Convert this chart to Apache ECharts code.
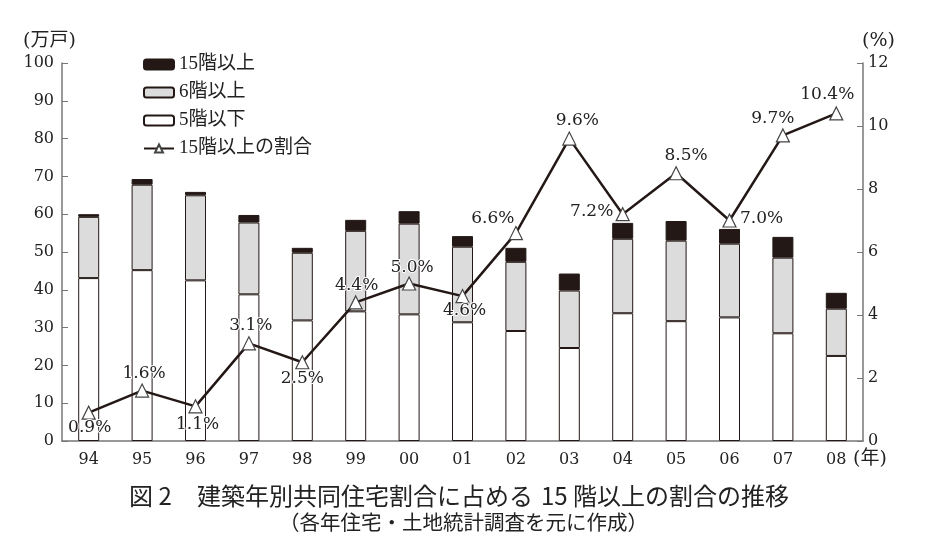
<!DOCTYPE html>
<html>
<head>
<meta charset="utf-8">
<script src="https://cdn.jsdelivr.net/npm/echarts@6/dist/echarts.min.js"></script>
<style>
html,body{margin:0;padding:0;background:#fff;}
#c{width:939px;height:554px;}
</style>
</head>
<body>
<div id="c"></div>
<script>
var years = ['94','95','96','97','98','99','00','01','02','03','04','05','06','07','08'];
var low5 = [43.1,45.2,42.5,38.8,31.9,34.3,33.5,31.4,29.1,24.6,33.8,31.7,32.7,28.5,22.5];
var mid6 = [16.2,22.6,22.5,19.0,17.9,21.3,24.0,20.0,18.3,15.2,19.7,21.3,19.5,20.0,12.5];
var high15 = [0.7,1.5,0.9,2.0,1.3,2.9,3.3,2.8,3.7,4.5,4.2,5.2,3.9,5.5,4.2];
var ratio15 = [0.9,1.6,1.1,3.1,2.5,4.4,5.0,4.6,6.6,9.6,7.2,8.5,7.0,9.7,10.4];
var leftTicks = {min:0, max:100, interval:10};
var rightTicks = {min:0, max:12, interval:2};

// label placement offsets (style only)
var labelOffsets = [[1,15],[2,-17],[2,18],[2,-18],[0,16],[1,-17],[3,-16],[2,14],[-23,-15],[8,-18],[-31,-3],[10,-18],[32,-2],[-10,-17],[-9,-19]];

var serif = '"DejaVu Serif","Noto Sans CJK JP",serif';
var serif2 = '"Liberation Serif","Noto Sans CJK JP",serif';
var sans = '"Noto Sans CJK JP",sans-serif';
var ink = '#231815';
var axisCol = '#777';

var chart = echarts.init(document.getElementById('c'), null, {renderer:'canvas'});

var ratioData = ratio15.map(function(v,i){
  return {value:v, label:{offset:labelOffsets[i]}};
});

var option = {
  backgroundColor:'#fff',
  animation:false,
  grid:{left:62, right:76, top:63, bottom:113, containLabel:false},
  legend:{
    orient:'vertical', left:138, top:50,
    itemWidth:30, itemHeight:10, itemGap:9,
    data:['15階以上','6階以上','5階以下','15階以上の割合'],
    textStyle:{fontSize:19, fontFamily:serif2, color:'#222'}
  },
  xAxis:{
    type:'category', data:years,
    axisLine:{lineStyle:{color:axisCol, width:1.5}},
    axisTick:{inside:true, length:5, lineStyle:{color:axisCol}},
    axisLabel:{fontSize:16, fontFamily:serif, color:'#222', margin:11},
    splitLine:{show:false}
  },
  yAxis:[
    {type:'value', min:leftTicks.min, max:leftTicks.max, interval:leftTicks.interval,
     axisLine:{show:true, lineStyle:{color:axisCol, width:1.5}},
     axisTick:{show:true, inside:true, length:6, lineStyle:{color:axisCol}},
     axisLabel:{fontSize:16, fontFamily:serif, color:'#222', margin:8},
     splitLine:{show:false}},
    {type:'value', position:'right', min:rightTicks.min, max:rightTicks.max, interval:rightTicks.interval,
     axisLine:{show:true, lineStyle:{color:axisCol, width:1.5}},
     axisTick:{show:true, inside:true, length:6, lineStyle:{color:axisCol}},
     axisLabel:{fontSize:16, fontFamily:serif, color:'#222', margin:5},
     splitLine:{show:false}}
  ],
  series:[
    {name:'5階以下', type:'bar', stack:'a', data:low5, barWidth:21,
     itemStyle:{color:'#ffffff', borderColor:ink, borderWidth:1}},
    {name:'6階以上', type:'bar', stack:'a', data:mid6, barWidth:21,
     itemStyle:{color:'#dcdcdc', borderColor:ink, borderWidth:1}},
    {name:'15階以上', type:'bar', stack:'a', data:high15, barWidth:21,
     itemStyle:{color:ink, borderColor:ink, borderWidth:1}},
    {name:'15階以上の割合', type:'line', yAxisIndex:1, data:ratioData, z:10,
     symbol:'triangle', symbolSize:13,
     lineStyle:{color:ink, width:2.5},
     itemStyle:{color:'#ffffff', borderColor:'#444', borderWidth:1.2},
     label:{show:true, position:'inside', fontSize:17, fontFamily:serif, color:'#222',
       textBorderColor:'#fff', textBorderWidth:2,
       formatter:function(p){return p.value.toFixed(1)+'%';}}}
  ],
  graphic:[
    {type:'text', left:23, top:32, style:{text:'(万戸)', fontSize:19, fontFamily:serif, fill:'#222'}},
    {type:'text', left:862, top:32, style:{text:'(%)', fontSize:19, fontFamily:serif, fill:'#222'}},
    {type:'text', left:853, top:450, style:{text:'(年)', fontSize:19, fontFamily:serif, fill:'#222'}},
    {type:'text', left:129, top:484, style:{text:'図 2', fontSize:24, fontFamily:sans, fill:'#222'}},
    {type:'text', left:197, top:484, style:{text:'建築年別共同住宅割合に占める', fontSize:24, fontFamily:sans, fill:'#222'}},
    {type:'text', left:541, top:484, style:{text:'15 階以上の割合の推移', fontSize:24, fontFamily:sans, fill:'#222'}},
    {type:'text', left:279, top:512, style:{text:'（各年住宅・土地統計調査を元に作成）', fontSize:20.5, fontFamily:sans, fill:'#222'}}
  ]
};
chart.setOption(option);
</script>
</body>
</html>
